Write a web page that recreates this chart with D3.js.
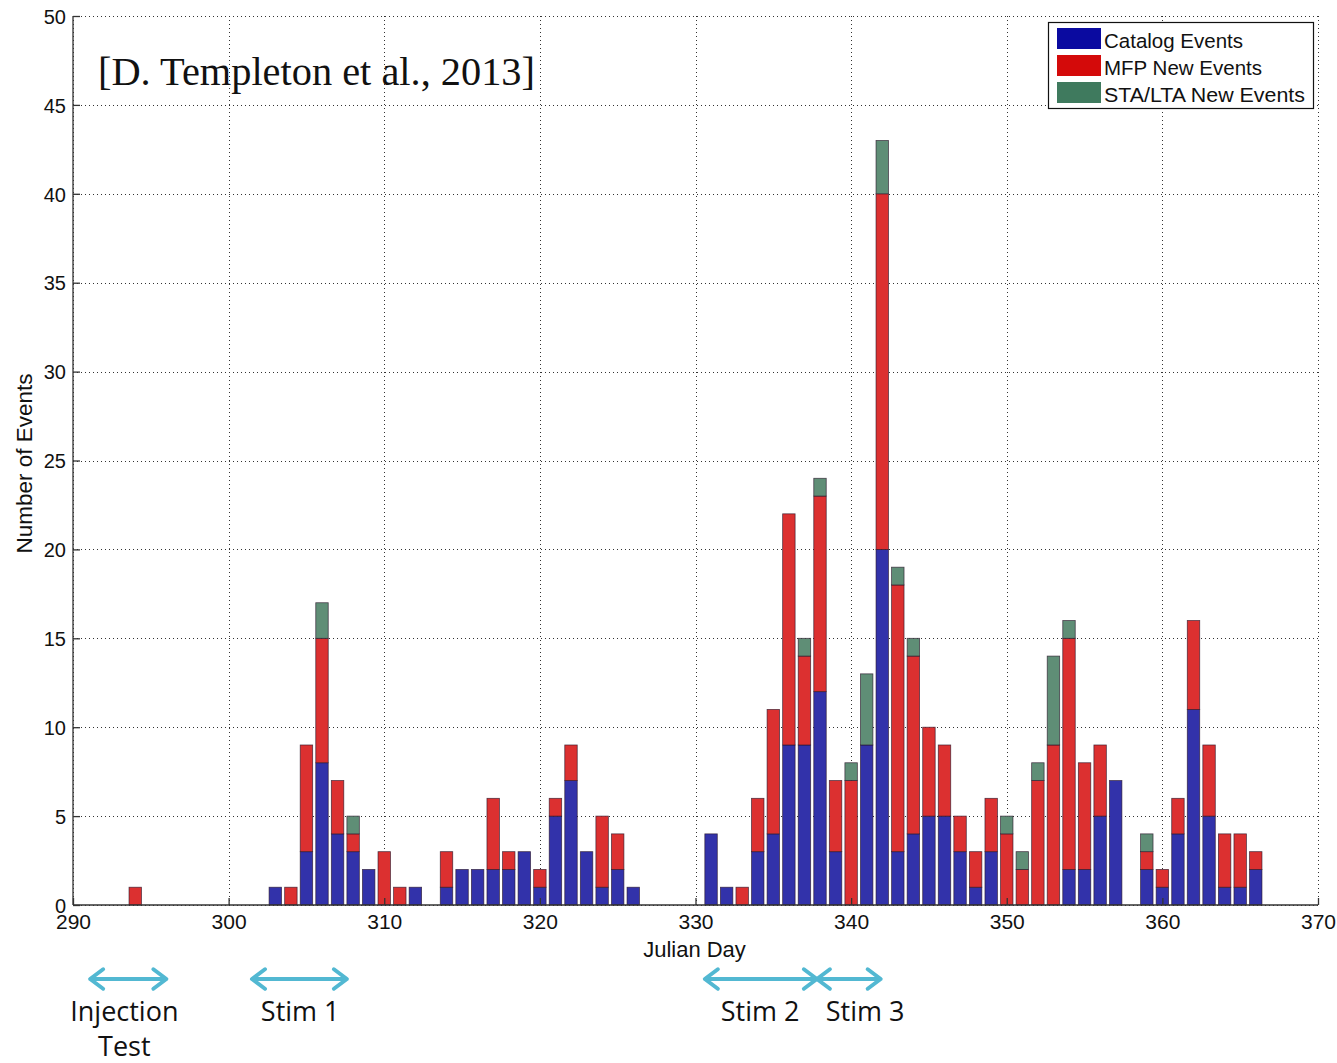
<!DOCTYPE html>
<html>
<head>
<meta charset="utf-8">
<script src="https://cdn.jsdelivr.net/npm/d3@7"></script>
<style>
  html, body { margin: 0; padding: 0; background: #fff; }
  svg { display: block; }
</style>
</head>
<body>
<svg id="chart" width="1337" height="1063"></svg>
<script>
// Daily event counts (Julian day) by detection source
const days    = [294, 303, 304, 305, 306, 307, 308, 309, 310, 311, 312,
                 314, 315, 316, 317, 318, 319, 320, 321, 322, 323, 324, 325, 326,
                 331, 332, 333, 334, 335, 336, 337, 338, 339, 340, 341, 342, 343, 344,
                 345, 346, 347, 348, 349, 350, 351, 352, 353, 354, 355, 356, 357,
                 359, 360, 361, 362, 363, 364, 365, 366];
const catalog = [0, 1, 0, 3, 8, 4, 3, 2, 0, 0, 1,
                 1, 2, 2, 2, 2, 3, 1, 5, 7, 3, 1, 2, 1,
                 4, 1, 0, 3, 4, 9, 9, 12, 3, 0, 9, 20, 3, 4,
                 5, 5, 3, 1, 3, 0, 0, 0, 0, 2, 2, 5, 7,
                 2, 1, 4, 11, 5, 1, 1, 2];
const mfp     = [1, 0, 1, 6, 7, 3, 1, 0, 3, 1, 0,
                 2, 0, 0, 4, 1, 0, 1, 1, 2, 0, 4, 2, 0,
                 0, 0, 1, 3, 7, 13, 5, 11, 4, 7, 0, 20, 15, 10,
                 5, 4, 2, 2, 3, 4, 2, 7, 9, 13, 6, 4, 0,
                 1, 1, 2, 5, 4, 3, 3, 1];
const staLta  = [0, 0, 0, 0, 2, 0, 1, 0, 0, 0, 0,
                 0, 0, 0, 0, 0, 0, 0, 0, 0, 0, 0, 0, 0,
                 0, 0, 0, 0, 0, 0, 1, 1, 0, 1, 4, 3, 1, 1,
                 0, 0, 0, 0, 0, 1, 1, 1, 5, 1, 0, 0, 0,
                 1, 0, 0, 0, 0, 0, 0, 0];

const seriesNames  = ["Catalog Events", "MFP New Events", "STA/LTA New Events"];
const xTicks = [290, 300, 310, 320, 330, 340, 350, 360, 370];
const yTicks = [0, 5, 10, 15, 20, 25, 30, 35, 40, 45, 50];

// Stimulation periods drawn beneath the axis (start day, end day, label centre day, label lines)
const periodStart  = [291.1, 301.5, 330.6, 337.8];
const periodEnd    = [296.0, 307.6, 337.8, 341.9];
const periodLabelAt = [293.3, 304.6, 334.15, 340.9];
const periodLabels = [["Injection", "Test"], ["Stim 1"], ["Stim 2"], ["Stim 3"]];

const barColors    = ["#3232aa", "#dc3030", "#5f8e76"];
const legendColors = ["#0a0aa0", "#d40a0a", "#3f7a5e"];

const svg = d3.select("#chart");
const L = 73, R = 1318, T = 16, B = 905;
const sans = "Liberation Sans, Arial, sans-serif";

const x = d3.scaleLinear().domain([290, 370]).range([L, R]);
const y = d3.scaleLinear().domain([0, 50]).range([B, T]);

// Grid lines (dotted)
const grid = svg.append("g").attr("stroke", "#333").attr("stroke-width", 1)
  .attr("stroke-dasharray", "1,3");
grid.selectAll(".gx").data(xTicks).join("line")
  .attr("x1", d => Math.round(x(d)) + 0.5).attr("x2", d => Math.round(x(d)) + 0.5)
  .attr("y1", T).attr("y2", B);
grid.selectAll(".gy").data(yTicks).join("line")
  .attr("x1", L).attr("x2", R)
  .attr("y1", d => Math.round(y(d)) + 0.5).attr("y2", d => Math.round(y(d)) + 0.5);

// Stacked bars
const table = days.map((d, i) => ({ day: d, catalog: catalog[i], mfp: mfp[i], staLta: staLta[i] }));
const stack = d3.stack().keys(["catalog", "mfp", "staLta"])(table);
const bw = (x(1) - x(0)) * 0.8;

svg.append("g").selectAll("g").data(stack).join("g")
  .attr("fill", (s, i) => barColors[i])
  .selectAll("rect").data(s => s.filter(v => v[1] > v[0])).join("rect")
  .attr("x", v => x(v.data.day) - bw / 2)
  .attr("width", bw)
  .attr("y", v => y(v[1]))
  .attr("height", v => y(v[0]) - y(v[1]))
  .attr("stroke", "rgba(40,20,40,0.75)")
  .attr("stroke-width", 0.8);

// Axes (ticks point inward)
const xAxis = d3.axisBottom(x).tickValues(xTicks).tickSize(-7).tickFormat(d3.format("d"));
const yAxis = d3.axisLeft(y).tickValues(yTicks).tickSize(-7).tickPadding(7).tickFormat(d3.format("d"));

const gx = svg.append("g").attr("transform", `translate(0,${B})`).call(xAxis);
const gy = svg.append("g").attr("transform", `translate(${L},0)`).call(yAxis);
[gx, gy].forEach(g => {
  g.selectAll("path").attr("stroke", "#333").attr("stroke-width", 1.3);
  g.selectAll("line").attr("stroke", "#333").attr("stroke-width", 1.3);
  g.selectAll("text").attr("font-family", sans).attr("fill", "#111");
});
gx.select(".domain").attr("d", `M${L},0H${R}`);
gy.select(".domain").attr("d", `M0,${B}V${T}`);
gx.selectAll("text").attr("font-size", 21).attr("y", 24).attr("dy", 0);
gy.selectAll("text").attr("font-size", 20).attr("dy", "0.36em");

// Axis titles
svg.append("text").attr("x", (L + R) / 2 - 1).attr("y", 957)
  .attr("text-anchor", "middle").attr("font-family", sans)
  .attr("font-size", 22).attr("fill", "#111").text("Julian Day");
svg.append("text")
  .attr("transform", `translate(32,${(T + B) / 2 + 3}) rotate(-90)`)
  .attr("text-anchor", "middle").attr("font-family", sans)
  .attr("font-size", 22.5).attr("fill", "#111").text("Number of Events");

// Citation
svg.append("text").attr("x", 98).attr("y", 85)
  .attr("font-family", "Liberation Serif, Times New Roman, serif")
  .attr("font-size", 39).attr("fill", "#111")
  .attr("textLength", 437).attr("lengthAdjust", "spacingAndGlyphs")
  .text("[D. Templeton et al., 2013]");

// Legend
const lg = svg.append("g");
lg.append("rect").attr("x", 1048.5).attr("y", 22.5).attr("width", 265).attr("height", 86)
  .attr("fill", "#fff").attr("stroke", "#111").attr("stroke-width", 1.2);
seriesNames.forEach((name, i) => {
  lg.append("rect").attr("x", 1057).attr("y", 28 + i * 27).attr("width", 44).attr("height", 21)
    .attr("fill", legendColors[i]);
  lg.append("text").attr("x", 1104).attr("y", 47.5 + i * 27)
    .attr("font-family", sans).attr("font-size", 20.5)
    .attr("textLength", i === 0 ? 139 : (i === 1 ? 158 : 201)).attr("lengthAdjust", "spacingAndGlyphs")
    .attr("fill", "#111").text(name);
});

// Period arrows with chevron heads
const arrowY = 979, head = 13, arrowColor = "#52b8d2";
const ag = svg.append("g").attr("stroke", arrowColor).attr("stroke-width", 4)
  .attr("fill", "none").attr("stroke-linecap", "round").attr("stroke-linejoin", "round");
periodStart.forEach((s, i) => {
  const x1 = x(s), x2 = x(periodEnd[i]);
  ag.append("line").attr("x1", x1 + 2).attr("x2", x2 - 2).attr("y1", arrowY).attr("y2", arrowY);
  ag.append("path").attr("d", `M${x1 + head},${arrowY - head * 0.75} L${x1},${arrowY} L${x1 + head},${arrowY + head * 0.75}`);
  ag.append("path").attr("d", `M${x2 - head},${arrowY - head * 0.75} L${x2},${arrowY} L${x2 - head},${arrowY + head * 0.75}`);
  const t = svg.append("text").attr("text-anchor", "middle")
    .attr("font-family", "Open Sans, Lato, sans-serif").attr("font-size", 27).attr("fill", "#111");
  periodLabels[i].forEach((line, j) => {
    t.append("tspan").attr("x", x(periodLabelAt[i])).attr("y", 1021 + j * 35).text(line);
  });
});
</script>
</body>
</html>
